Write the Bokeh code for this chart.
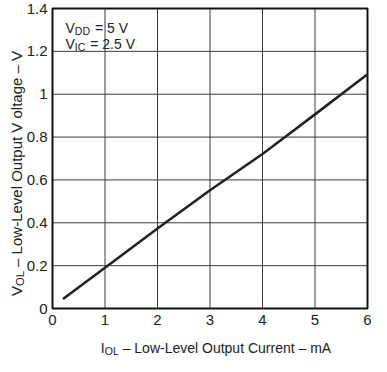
import math
from bokeh.plotting import figure
from bokeh.models import Label, FixedTicker, Range1d
from bokeh.embed import file_html
from bokeh.resources import INLINE

# ---- data ----
iol_ma = [0.2, 1, 2, 3, 4, 4.43, 5, 6]
vol_v = [0.044, 0.19, 0.373, 0.552, 0.721, 0.8, 0.906, 1.093]
x_ticks = [0, 1, 2, 3, 4, 5, 6]
x_tick_labels = ["0", "1", "2", "3", "4", "5", "6"]
y_ticks = [0, 0.2, 0.4, 0.6, 0.8, 1.0, 1.2, 1.4]
y_tick_labels = ["0", "0.2", "0.4", "0.6", "0.8", "1", "1.2", "1.4"]

FONT = "Liberation Sans"
INK = "#222222"
W, H = 371, 356
# pixel padding around the data rectangle (room for tick labels and titles)
PL, PR, PT, PB = 52, 4, 8, 48
DW = W - PL - PR
DH = H - PT - PB
X0, X1 = x_ticks[0], x_ticks[-1]
Y0, Y1 = y_ticks[0], y_ticks[-1]
sx = (X1 - X0) / DW
sy = (Y1 - Y0) / DH

p = figure(width=W, height=H, output_backend="svg", toolbar_location=None,
           x_range=Range1d(X0 - PL * sx, X1 + PR * sx),
           y_range=Range1d(Y0 - PB * sy, Y1 + PT * sy),
           min_border=0, min_border_left=0, min_border_right=0,
           min_border_top=0, min_border_bottom=0)
p.background_fill_color = "white"
p.border_fill_color = "white"
p.outline_line_color = None
p.grid.visible = False

# library axes, pinned to the data origin
p.xaxis.fixed_location = Y0
p.yaxis.fixed_location = X0
for ax, ticks, labels in ((p.xaxis[0], x_ticks, x_tick_labels), (p.yaxis[0], y_ticks, y_tick_labels)):
    ax.ticker = FixedTicker(ticks=ticks)
    ax.major_label_overrides = {t: l for t, l in zip(ticks, labels)}
    ax.axis_line_color = None
    ax.major_tick_line_color = None
    ax.minor_tick_line_color = None
    ax.major_tick_out = 0
    ax.major_tick_in = 0
    ax.minor_tick_out = 0
    ax.minor_tick_in = 0
    ax.major_label_text_font = FONT
    ax.major_label_text_font_size = "15px"
    ax.major_label_text_color = INK
p.xaxis.major_label_standoff = 6
p.yaxis.major_label_standoff = 5

# grid lines at the tick values, limited to the data rectangle
p.segment(x0=x_ticks, y0=[Y0] * len(x_ticks), x1=x_ticks, y1=[Y1] * len(x_ticks),
          line_color="#3c3c3c", line_width=1)
p.segment(x0=[X0] * len(y_ticks), y0=y_ticks, x1=[X1] * len(y_ticks), y1=y_ticks,
          line_color="#3c3c3c", line_width=1)
# frame of the data rectangle
p.quad(left=[X0], right=[X1], bottom=[Y0], top=[Y1], fill_color=None,
       line_color="#111111", line_width=2)

p.line(iol_ma, vol_v, line_color=INK, line_width=2.6)

NB = "\u00a0"

def lab(text, x, y, size, angle=0.0):
    # x, y: screen pixels measured from the frame's left / bottom
    p.add_layout(Label(x=x, y=y, x_units="screen", y_units="screen", text=text,
                       text_font=FONT, text_font_size=f"{size}px",
                       text_color=INK, text_align="left",
                       text_baseline="alphabetic", angle=angle))

# annotation (top-left inside the data rectangle)
fs, ss = 14, 10.5
ax0, top = PL + 13, PB + DH
lab("V", ax0, top - 19, fs)
lab("DD", ax0 + 0.667 * fs, top - 22, ss)
lab(NB + "=" + NB + "5" + NB + "V", ax0 + 0.667 * fs + 1.444 * ss + 1, top - 19, fs)
lab("V", ax0, top - 35, fs)
lab("IC", ax0 + 0.667 * fs, top - 38, ss)
lab(NB + "=" + NB + "2.5" + NB + "V", ax0 + 0.667 * fs + 1.0 * ss + 1, top - 35, fs)

# x axis title
fs, ss = 14, 10.5
wI, wOL, wRest = 0.278 * fs, 1.334 * ss, 15.173 * fs
total = wI + wOL + wRest
x0 = PL + DW / 2 + 6 - total / 2
yb = 9
lab("I", x0, yb, fs)
lab("OL", x0 + wI, yb - 3, ss)
lab(NB + "\u2013 Low-Level Output Current \u2013 mA", x0 + wI + wOL, yb, fs)

# y axis title (rotated)
fs, ss = 15, 11.25
wV, wOL, wRest = 0.667 * fs, 1.334 * ss, 14.675 * fs
total = wV + wOL + wRest
y0 = PB + DH / 2 - 15 - total / 2
a = math.pi / 2
xb = 16
lab("V", xb, y0, fs, a)
lab("OL", xb + 3, y0 + wV, ss, a)
lab(NB + "\u2013 Low-Level Output V oltage \u2013 V", xb, y0 + wV + wOL, fs, a)

open("out.html", "w").write(file_html(p, INLINE))
